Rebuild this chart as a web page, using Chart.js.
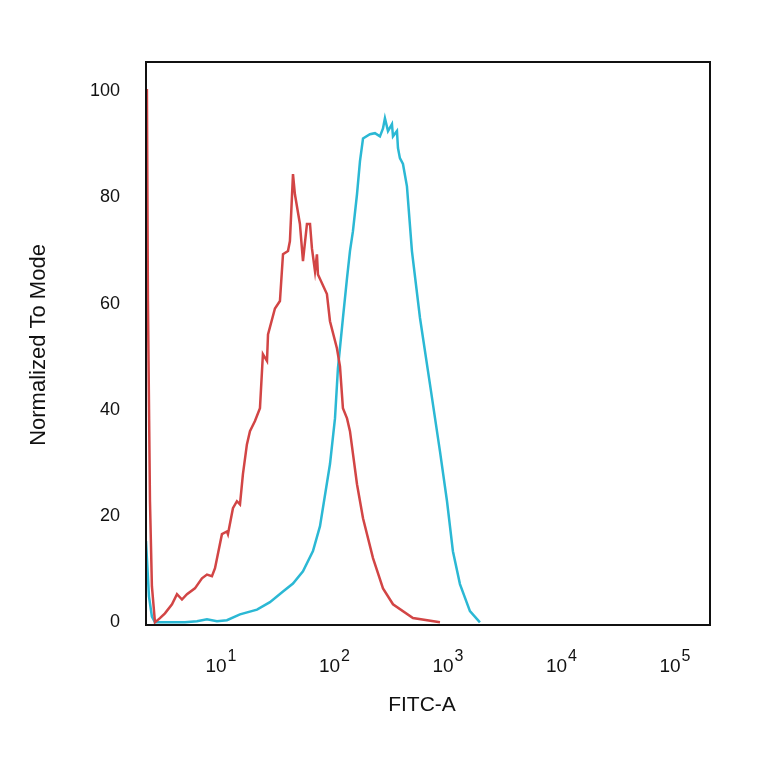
<!DOCTYPE html>
<html>
<head>
<meta charset="utf-8">
<script src="https://cdn.jsdelivr.net/npm/chart.js@4/dist/chart.umd.min.js"></script>
<style>
html,body{margin:0;padding:0;background:#fff;}
#c{display:block;}
</style>
</head>
<body>
<canvas id="c" width="764" height="764"></canvas>
<script>
// x values are log10(FITC-A) decades
const redX = [0.352,0.361,0.379,0.396,0.423,0.467,0.511,0.573,0.617,0.661,0.705,0.775,0.837,0.881,0.925,0.952,1.013,1.057,1.066,1.110,1.145,1.172,1.198,1.233,1.260,1.304,1.348,1.374,1.410,1.419,1.480,1.524,1.551,1.595,1.612,1.639,1.656,1.700,1.727,1.762,1.789,1.806,1.833,1.850,1.859,1.938,1.965,2.026,2.053,2.079,2.115,2.141,2.203,2.256,2.344,2.432,2.520,2.696,2.934];
const redY = [100.4,60.5,22.8,6.8,0,0.8,1.7,3.4,5.3,4.3,5.3,6.4,8.3,9.0,8.7,10.2,16.6,17.1,16.6,21.5,22.8,22.2,27.9,33.5,36.0,37.9,40.3,50.5,49.2,54.2,59.1,60.5,69.3,69.9,71.8,84.4,80.6,75.0,68.0,75.0,75.0,70.4,66.1,69.3,65.5,61.8,56.7,51.6,48.2,40.3,38.4,36.0,26.0,19.6,12.1,6.4,3.4,0.8,0];
const cyanX = [0.344,0.370,0.396,0.423,0.555,0.687,0.793,0.881,0.969,1.057,1.172,1.322,1.436,1.551,1.639,1.727,1.815,1.877,1.965,2.009,2.035,2.079,2.115,2.141,2.167,2.203,2.229,2.256,2.317,2.361,2.405,2.432,2.449,2.476,2.511,2.520,2.555,2.564,2.581,2.608,2.643,2.687,2.758,2.846,2.934,2.996,3.048,3.110,3.198,3.286];
const cyanY = [15.3,4.9,1.1,0,0,0,0.2,0.6,0.2,0.4,1.5,2.4,3.8,5.8,7.3,9.6,13.4,18.1,29.8,38.4,47.8,57.3,64.8,69.9,73.6,80.6,86.8,91.1,91.9,92.1,91.5,93.0,94.9,92.5,93.8,91.5,92.5,89.3,87.4,86.3,82.1,69.9,57.3,44.8,32.2,22.8,13.4,7.2,2.1,0];
const yTicks = [0,20,40,60,80,100];
const xTickExp = [1,2,3,4,5];
const xTitle = 'FITC-A';
const yTitle = 'Normalized To Mode';

const toPts = (xs, ys) => xs.map((x, i) => ({x: x, y: ys[i]}));
const FONT = '"Liberation Sans", Arial, sans-serif';

const deco = {
  id: 'deco',
  afterDraw(chart) {
    const ctx = chart.ctx;
    const a = chart.chartArea;
    const xs = chart.scales.x;
    ctx.save();
    ctx.strokeStyle = '#111';
    ctx.lineWidth = 2;
    ctx.strokeRect(a.left, a.top, a.right - a.left, a.bottom - a.top);
    ctx.fillStyle = '#111';
    ctx.textBaseline = 'alphabetic';
    xTickExp.forEach(e => {
      const px = xs.getPixelForValue(e);
      ctx.font = '19px ' + FONT;
      const w1 = ctx.measureText('10').width;
      ctx.font = '16px ' + FONT;
      const w2 = ctx.measureText(String(e)).width;
      const x0 = px - (w1 + w2) / 2;
      ctx.font = '19px ' + FONT;
      ctx.textAlign = 'left';
      ctx.fillText('10', x0, 672);
      ctx.font = '16px ' + FONT;
      ctx.fillText(String(e), x0 + w1 + 1, 661);
    });
    ctx.font = '21px ' + FONT;
    ctx.textAlign = 'center';
    ctx.textBaseline = 'middle';
    ctx.fillText(xTitle, 422, 705);
    ctx.translate(39, 345);
    ctx.rotate(-Math.PI / 2);
    ctx.font = '22px ' + FONT;
    ctx.fillText(yTitle, 0, 0);
    ctx.restore();
  }
};

new Chart(document.getElementById('c'), {
  type: 'line',
  data: {
    datasets: [
      {data: toPts(redX, redY), borderColor: '#d24545', borderWidth: 2.5, pointRadius: 0, tension: 0, fill: false, order: 0},
      {data: toPts(cyanX, cyanY), borderColor: '#2bb8d4', borderWidth: 2.5, pointRadius: 0, tension: 0, fill: false, order: 1}
    ]
  },
  options: {
    responsive: false,
    animation: false,
    layout: {padding: {left: 0, top: 62, right: 54, bottom: 0}},
    plugins: {legend: {display: false}, tooltip: {enabled: false}},
    scales: {
      x: {
        type: 'linear', min: 0.344, max: 5.313,
        grid: {display: false, drawTicks: false},
        border: {display: false},
        ticks: {display: false},
        afterBuildTicks: s => { s.ticks = xTickExp.map(v => ({value: v})); },
        afterFit: s => { s.height = 764 - 625; }
      },
      y: {
        type: 'linear', min: -0.5, max: 105.5,
        grid: {display: false, drawTicks: false},
        border: {display: false},
        ticks: {color: '#111', padding: 26, font: {family: FONT, size: 18}},
        afterBuildTicks: s => { s.ticks = yTicks.map(v => ({value: v})); },
        afterFit: s => { s.width = 146; }
      }
    }
  },
  plugins: [deco]
});
</script>
</body>
</html>
